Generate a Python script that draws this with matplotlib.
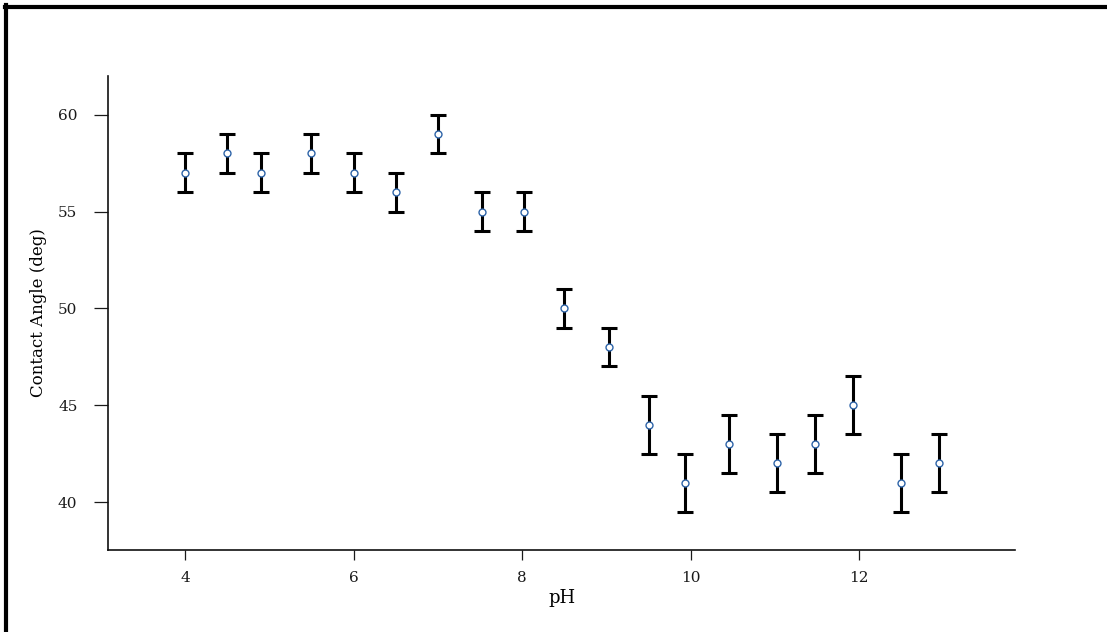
import matplotlib
matplotlib.use("Agg")
import matplotlib.pyplot as plt
from matplotlib.lines import Line2D

ph = [4.0, 4.5, 4.9, 5.5, 6.0, 6.5, 7.0, 7.52, 8.02, 8.5, 9.03, 9.5, 9.93,
      10.46, 11.03, 11.47, 11.93, 12.49, 12.95]
angle = [57, 58, 57, 58, 57, 56, 59, 55, 55, 50, 48, 44, 41, 43, 42, 43, 45, 41, 42]
err = [1, 1, 1, 1, 1, 1, 1, 1, 1, 1, 1, 1.5, 1.5, 1.5, 1.5, 1.5, 1.5, 1.5, 1.5]
xticks = [4, 6, 8, 10, 12]
yticks = [40, 45, 50, 55, 60]

plt.rcParams['font.family'] = ['DejaVu Serif']

fig = plt.figure(figsize=(11.07, 6.32), dpi=100)
ax = fig.add_axes([0.0976, 0.1297, 0.8194, 0.750])

ax.errorbar(ph, angle, yerr=err, fmt='none', ecolor='black', elinewidth=2.2,
            capsize=6, capthick=2.2, zorder=2)
ax.plot(ph, angle, linestyle='none', marker='o', markersize=5,
        markerfacecolor='white', markeredgecolor='#2e64a8', markeredgewidth=1.0,
        zorder=3)

ax.set_xlim(3.087, 13.85)
ax.set_ylim(37.52, 62.0)
ax.set_xticks(xticks)
ax.set_yticks(yticks)
ax.set_xticklabels([str(v) for v in xticks])
ax.set_yticklabels([str(v) for v in yticks])
ax.tick_params(axis='both', labelsize=11, width=0.9, colors='#1a1a1a')
ax.tick_params(axis='y', length=10, pad=12)
ax.tick_params(axis='x', length=7, pad=8)

for s in ['top', 'right']:
    ax.spines[s].set_visible(False)
for s in ['left', 'bottom']:
    ax.spines[s].set_linewidth(1.2)
    ax.spines[s].set_color('#111111')

ax.set_xlabel('pH', fontsize=13, labelpad=3)
ax.set_ylabel('Contact Angle (deg)', fontsize=12, labelpad=8)

# figure frame (top and left)
fig.add_artist(Line2D([0.0045, 1.0], [1 - 7 / 632, 1 - 7 / 632],
                      transform=fig.transFigure, color='black', linewidth=3))
fig.add_artist(Line2D([6 / 1107, 6 / 1107], [0.0, 1 - 5 / 632],
                      transform=fig.transFigure, color='black', linewidth=3))

fig.savefig('out.png', dpi=100)
